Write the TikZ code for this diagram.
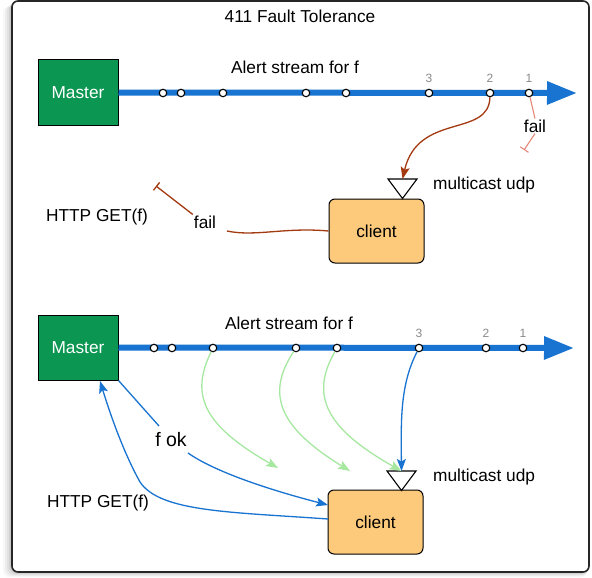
\documentclass[tikz,border=0pt]{standalone}
\usepackage{fontspec}
\setmainfont{Liberation Sans}
\usetikzlibrary{arrows.meta}
\definecolor{mgreen}{HTML}{0B9651}
\definecolor{sblue}{HTML}{1874D0}
\definecolor{cfill}{HTML}{FDC97B}
\definecolor{brn}{HTML}{A33A10}
\definecolor{salm}{HTML}{E58878}
\definecolor{lgreen}{HTML}{A6E8A0}
\definecolor{numgray}{HTML}{8A8A8A}
\begin{document}
\begin{tikzpicture}[x=1pt,y=-1pt,
  lbl/.style={font=\fontsize{17.3}{20}\selectfont, inner sep=1pt},
  numlbl/.style={font=\fontsize{12}{14}\selectfont, text=numgray, inner sep=0pt},
  masterbox/.style={draw=black, line width=1pt, fill=mgreen, minimum width=80pt, minimum height=65pt, text=white, font=\fontsize{17.3}{20}\selectfont, inner sep=0pt},
  clientbox/.style={draw=black, line width=1pt, fill=cfill, rounded corners=6pt, minimum width=95pt, minimum height=64pt, font=\fontsize{17.3}{20}\selectfont, inner sep=0pt},
  dotnode/.style={circle, draw=black, fill=white, line width=1.1pt, minimum size=7.5pt, inner sep=0pt},
  streamline/.style={draw=sblue, line width=6pt, -{Triangle[length=30pt,width=22pt]}},
  thinarrow/.style={line width=1.3pt, -{Stealth[length=12pt,width=9pt,inset=2.5pt]}},
  tri/.style={draw=black, fill=white, line width=1.1pt, line join=miter}
]
\useasboundingbox (0,0) rectangle (592,578);
% shadow
\foreach \k/\o in {9/0.03,7/0.04,5/0.05,3/0.07,1.5/0.09}{
  \fill[black, opacity=\o, rounded corners=7pt] (12-\k,1+\k*0.6) rectangle (589-\k*0.2,572+\k*0.6);
}
\draw[line width=1.6pt, draw=black!85, fill=white, rounded corners=6pt] (12,1) rectangle (589,572);

\node[lbl] (title) at (300,16) {411 Fault Tolerance};

% ---------------- top section ----------------
\node[masterbox] (m1) at (78,92.5) {Master};
\coordinate (s1end) at (577,93);
\draw[streamline] (m1.east) -- (s1end);
\node[lbl] (as1) at (295,67) {Alert stream for f};
\foreach \x [count=\i] in {163,181,223,306,346,429,490,529}{
  \node[dotnode] (t\i) at (\x,93) {};
}
\node[numlbl] (n1a) at (429,78) {3};
\node[numlbl] (n1b) at (490,78) {2};
\node[numlbl] (n1c) at (529,78) {1};

\node[clientbox] (c1) at (376.5,231) {client};
\draw[tri] (388,179) -- (417,179) -- (402.5,198.5) -- cycle;
\coordinate (tri1) at (402.5,179);
\node[lbl, anchor=west] (mc1) at (432,185) {multicast udp};

\draw[brn, thinarrow] (t7) .. controls (489,138) and (418,112) .. (tri1);

\node[lbl] (fail1) at (535,126) {fail};
\coordinate (bar1) at (524,150);
\draw[salm, line width=1.1pt] (t8) -- (fail1.north);
\draw[salm, line width=1.1pt, -{Bar[width=10pt]}] (fail1.south) -- (bar1);

\node[lbl] (fail2) at (205,222) {fail};
\coordinate (f2a) at (227,231);
\coordinate (bar2) at (156,186);
\draw[brn, line width=1.3pt] (c1.west) .. controls (285,227) and (255,237) .. (f2a);
\draw[brn, line width=1.3pt, -{Bar[width=10pt]}] (fail2.north west) -- (bar2);

\node[lbl] (http1) at (97,217) {HTTP GET(f)};

% ---------------- bottom section ----------------
\node[masterbox] (m2) at (78,347.5) {Master};
\coordinate (s2end) at (574,348);
\draw[streamline] (m2.east) -- (s2end);
\node[lbl] (as2) at (289,323) {Alert stream for f};
\foreach \x [count=\i] in {154,172,213,296,337,419,486,523}{
  \node[dotnode] (b\i) at (\x,348) {};
}
\node[numlbl] (n2a) at (419,333) {3};
\node[numlbl] (n2b) at (486,333) {2};
\node[numlbl] (n2c) at (523,333) {1};

\node[clientbox] (c2) at (375.5,522) {client};
\draw[tri] (387,471) -- (416,471) -- (401.5,490.5) -- cycle;
\coordinate (tri2) at (401.5,471);
\node[lbl, anchor=west] (mc2) at (432,477) {multicast udp};

\coordinate (g1end) at (278,468);
\coordinate (g2end) at (350,471);
\draw[lgreen, thinarrow] (b3) .. controls (190,395) and (203,425) .. (g1end);
\draw[lgreen, thinarrow] (b4) .. controls (265,395) and (280,428) .. (g2end);
\draw[lgreen, thinarrow] (b5) .. controls (310,395) and (325,428) .. (tri2);
\draw[sblue, thinarrow] (b6) .. controls (400,385) and (401,420) .. (tri2);

\node[lbl, font=\fontsize{19.5}{22}\selectfont] (fok) at (171,440) {f ok};
\coordinate (fokA) at (159,426);
\coordinate (fokB) at (188,453);
\coordinate (c2in) at (328,505);
\draw[sblue, line width=1.3pt] (m2.south east) -- (fokA);
\draw[sblue, thinarrow] (fokB) .. controls (215,472) and (270,490) .. (c2in);

\coordinate (c2out) at (328,519);
\coordinate (m2in) at (100,381);
\draw[sblue, thinarrow] (c2out) .. controls (230,512) and (160,512) .. (140,482) .. controls (125,455) and (112,420) .. (m2in);

\node[lbl] (http2) at (98,503) {HTTP GET(f)};
\end{tikzpicture}
\end{document}
